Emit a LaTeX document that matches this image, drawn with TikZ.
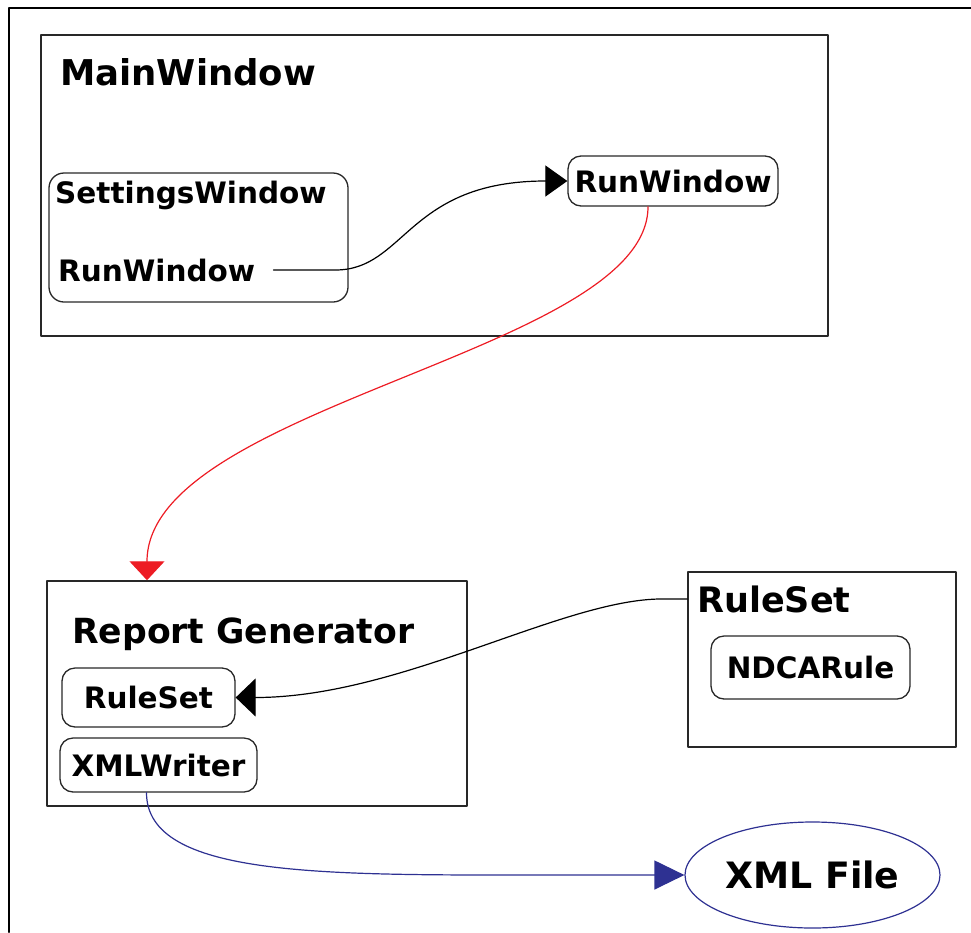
\documentclass[tikz,border=0pt]{standalone}
\usepackage{fontspec}
\setmainfont{DejaVu Sans}
\usepackage{tikz}
\usetikzlibrary{arrows.meta}
\usetikzlibrary{shapes.geometric}
\usetikzlibrary{calc}

\definecolor{arrowred}{RGB}{237,28,36}
\definecolor{arrowblue}{RGB}{46,49,146}
\definecolor{boxgray}{RGB}{40,40,40}

\begin{document}
\begin{tikzpicture}[x=1pt,y=-1pt,line cap=round,line join=round,
  bigtxt/.style={font=\fontsize{35.5}{40}\selectfont\bfseries},
  smalltxt/.style={font=\fontsize{29.5}{34}\selectfont\bfseries},
  lbl/.style={anchor=base west,inner sep=0pt},
  frame/.style={draw=boxgray,line width=1.5pt,inner sep=0pt},
  pill/.style={draw=boxgray,line width=1.3pt,rounded corners=13pt,inner sep=0pt,smalltxt},
  conn/.style={line width=1.2pt}]
\useasboundingbox (0,0) rectangle (971,932);
\draw[line width=2.2pt] (9,932) -- (9,8) -- (971,8);

% containers
\draw (434.5,185.5) node[frame,minimum width=787pt,minimum height=301pt](mainwin){};
\draw (198.5,237.5) node[frame,line width=1.3pt,rounded corners=15pt,minimum width=299pt,minimum height=129pt](setwin){};
\draw (257,693.5) node[frame,minimum width=420pt,minimum height=225pt](repgen){};
\draw (822,659.5) node[frame,minimum width=268pt,minimum height=175pt](rsbox){};

\draw (60,85) node[lbl,bigtxt](mwlabel){MainWindow};
\draw (55,203) node[lbl,smalltxt](swlabel){SettingsWindow};
\draw (58,281) node[lbl,smalltxt](swrun){RunWindow};
\draw (72,643) node[lbl,bigtxt,font=\fontsize{34.6}{38}\selectfont\bfseries](rglabel){Report Generator};
\draw (697,612) node[lbl,bigtxt,font=\fontsize{35}{40}\selectfont\bfseries](rslabel){RuleSet};

% inner boxes
\draw (673,181) node[pill,minimum width=210pt,minimum height=50pt](runwin){RunWindow};
\draw (148.5,697.5) node[pill,minimum width=173pt,minimum height=59pt](rsinner){RuleSet};
\draw (158.5,765) node[pill,minimum width=197pt,minimum height=54pt](xmlw){XMLWriter};
\draw (810.5,667.5) node[pill,minimum width=199pt,minimum height=63pt](ndca){NDCARule};
\draw (812.5,875) node[ellipse,draw=arrowblue,line width=1.2pt,inner sep=0pt,minimum width=255pt,minimum height=106pt,font=\fontsize{36.3}{42}\selectfont\bfseries](xmlfile){XML File};

% connectors
\draw[conn,-{Triangle[length=22pt,width=31pt]}] ($(swrun.east)+(18,0)$) -- ++(62,0) .. controls +(70,0) and +(-160,0) .. (runwin.west);
\draw[conn,arrowred,-{Triangle[length=19pt,width=35pt]}] ($(runwin.south)+(-25,0)$) .. controls +(0,145) and +(0,-175) .. ($(repgen.north)+(-110,0)$);
\draw[conn,-{Triangle[length=20pt,width=38pt]}] (rsbox.west |- rslabel.west) -- ++(-25,0) .. controls +(-100,0) and +(165,0) .. (rsinner.east);
\draw[conn,arrowblue,-{Triangle[length=30pt,width=29pt]}] ($(xmlw.south)+(-12,0)$) .. controls +(0,85) and +(-220,0) .. ($(xmlfile.west)+(-140,0)$) -- (xmlfile.west);
\end{tikzpicture}
\end{document}
